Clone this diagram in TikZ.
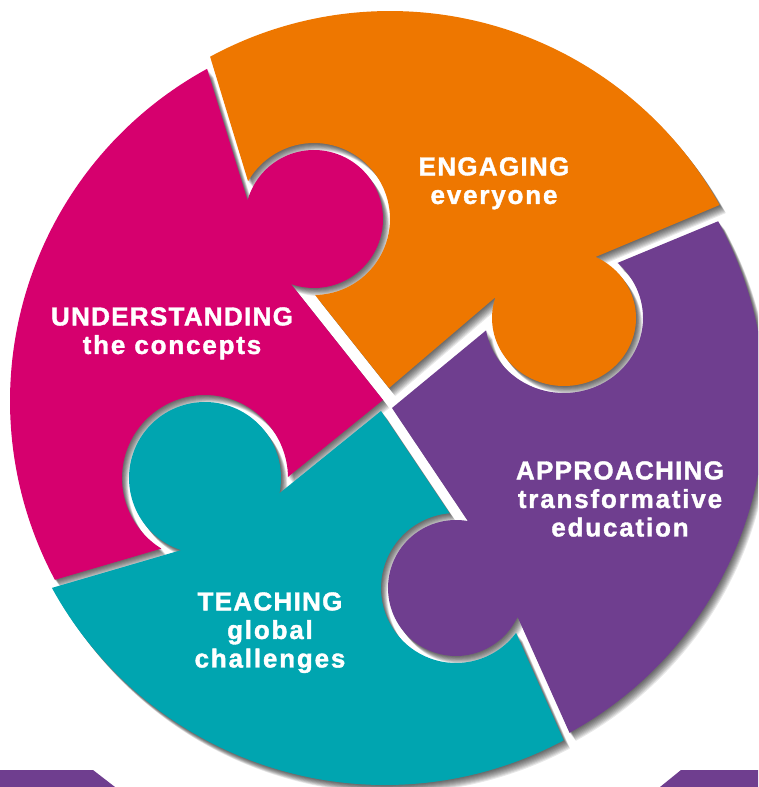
\documentclass[tikz,border=0pt]{standalone}
\usepackage{fontspec}
\setmainfont{Liberation Sans}
\definecolor{cpink}{RGB}{214,0,110}
\definecolor{corange}{RGB}{238,119,0}
\definecolor{cpurple}{RGB}{111,62,143}
\definecolor{cteal}{RGB}{0,165,176}
% arc of an ellipse: cx, cy, rx, ry, start angle, end angle (pixel coords, y down)
\newcommand{\earc}[6]{-- plot[domain=0:1,samples=90] ({#1+#3*cos(#5+(#6-(#5))*\x)},{#2+#4*sin(#5+(#6-(#5))*\x)})}
\newcommand{\orangeshape}{(210.1,56.7) \earc{390}{388}{377}{377}{241.5}{331} -- (595.6,256.9) \earc{564}{318}{72}{68}{-64}{198} -- (389,388) -- (315.1,295) \earc{314}{219}{76}{76}{89.2}{-150.3} -- cycle}
\newcommand{\pinkshape}{(54.9,579.8) \earc{388.5}{401}{378.5}{378.5}{151.8}{241.4} -- (247.5,200.1) \earc{314}{219}{69}{69}{195.9}{469.7} -- (383,400) -- (287.9,477.0) \earc{205}{478}{83}{83}{-0.7}{-238.4} -- cycle}
\newcommand{\tealshape}{(381,411) -- (279.5,493.2) \earc{205}{478}{76}{76}{11.5}{-251.8} -- (51.9,587.9) \earc{385}{405}{380}{380}{151.2}{61.9} -- (516.1,632.9) \earc{456}{588}{75}{75}{36.8}{265.2} -- cycle}
\newcommand{\purpleshape}{(392,408) -- (467.9,521.1) \earc{456}{588}{68}{68}{-79.9}{-335} -- (569.5,732.8) \earc{389}{403}{376}{376}{61.3}{-28.95} -- (617.6,262.9) \earc{564}{318}{79}{75}{-47.3}{170.6} -- cycle}
\newcommand{\capl}[1]{{\addfontfeatures{LetterSpace=5,FakeBold=1.4}#1}}
\newcommand{\lowl}[1]{{\addfontfeatures{LetterSpace=7,FakeBold=1.4}#1}}
\begin{document}
\begin{tikzpicture}[x=0.75pt,y=-0.75pt,
  lbl/.style={text=white, inner sep=0pt, align=center, anchor=north,
              font=\fontsize{19.5}{21.4}\selectfont\bfseries},
  shadowlayer/.style={fill=black, opacity=0.09}]
\useasboundingbox (0,0) rectangle (758,787);
\clip (0,0) rectangle (758,787);
% bottom purple bands
\fill[cpurple] (0,770) -- (93,770) -- (115,787) -- (0,787) -- cycle;
\fill[cpurple] (681,770) -- (758,770) -- (758,787) -- (660,787) -- cycle;
% soft drop shadows
\foreach \k in {1,...,9}{
  \fill[shadowlayer, shift={(\k*0.7,\k*0.9)}] \orangeshape;
  \fill[shadowlayer, shift={(\k*0.7,\k*0.9)}] \pinkshape;
  \fill[shadowlayer, shift={(\k*0.7,\k*0.9)}] \tealshape;
  \fill[shadowlayer, shift={(\k*0.7,\k*0.9)}] \purpleshape;
}
% puzzle pieces
\fill[cpink] \pinkshape;
\fill[cteal] \tealshape;
\fill[cpurple] \purpleshape;
\fill[corange] \orangeshape;
% labels
\node[lbl] (engaging) at (494,157) {\capl{ENGAGING}\\\lowl{everyone}};
\node[lbl] (understanding) at (172,307) {\capl{UNDERSTANDING}\\\lowl{the concepts}};
\node[lbl] (approaching) at (620,461) {\capl{APPROACHING}\\\lowl{transformative}\\\lowl{education}};
\node[lbl] (teaching) at (270,592) {\capl{TEACHING}\\\lowl{global}\\\lowl{challenges}};
\end{tikzpicture}
\end{document}
